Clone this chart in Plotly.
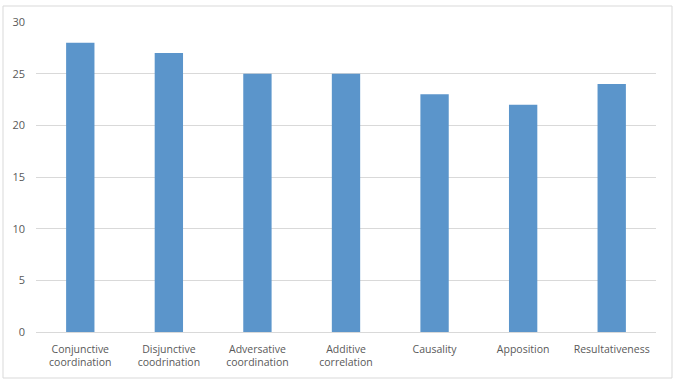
import plotly.graph_objects as go

categories = ["Conjunctive<br>coordination", "Disjunctive<br>coodrination", "Adversative<br>coordination",
              "Additive<br>correlation", "Causality", "Apposition", "Resultativeness"]
values = [28, 27, 25, 25, 23, 22, 24]
y_ticks = [0, 5, 10, 15, 20, 25, 30]

fig = go.Figure(go.Bar(x=categories, y=values, marker=dict(color="#5b95cb", line=dict(width=0))))

fig.update_layout(
    width=675, height=387,
    margin=dict(l=36, r=19, t=22, b=55),
    plot_bgcolor="white", paper_bgcolor="white",
    bargap=0.68,
    showlegend=False,
    font=dict(family="Open Sans, Liberation Sans, sans-serif", size=10, color="#595959"),
    xaxis=dict(showgrid=False, ticks="", showline=True, linecolor="#d9d9d9", linewidth=1,
               tickfont=dict(size=10.5), ticklabelstandoff=7),
    yaxis=dict(range=[0, 30], tickvals=y_ticks, showgrid=True, gridcolor="#d9d9d9", gridwidth=1,
               zeroline=False, showline=False, ticks="", tickfont=dict(size=11), ticklabelstandoff=10),
    shapes=[dict(type="rect", xref="paper", yref="paper",
                 x0=(3 - 36) / 620, x1=(672 - 36) / 620,
                 y0=(332 - 378) / 310, y1=(332 - 6) / 310,
                 line=dict(color="#d9d9d9", width=1), fillcolor="rgba(0,0,0,0)", layer="below")],
)

fig.write_html("out.html", config={"displayModeBar": False},
               post_script="document.body.style.margin='0';document.body.style.overflow='hidden';")
